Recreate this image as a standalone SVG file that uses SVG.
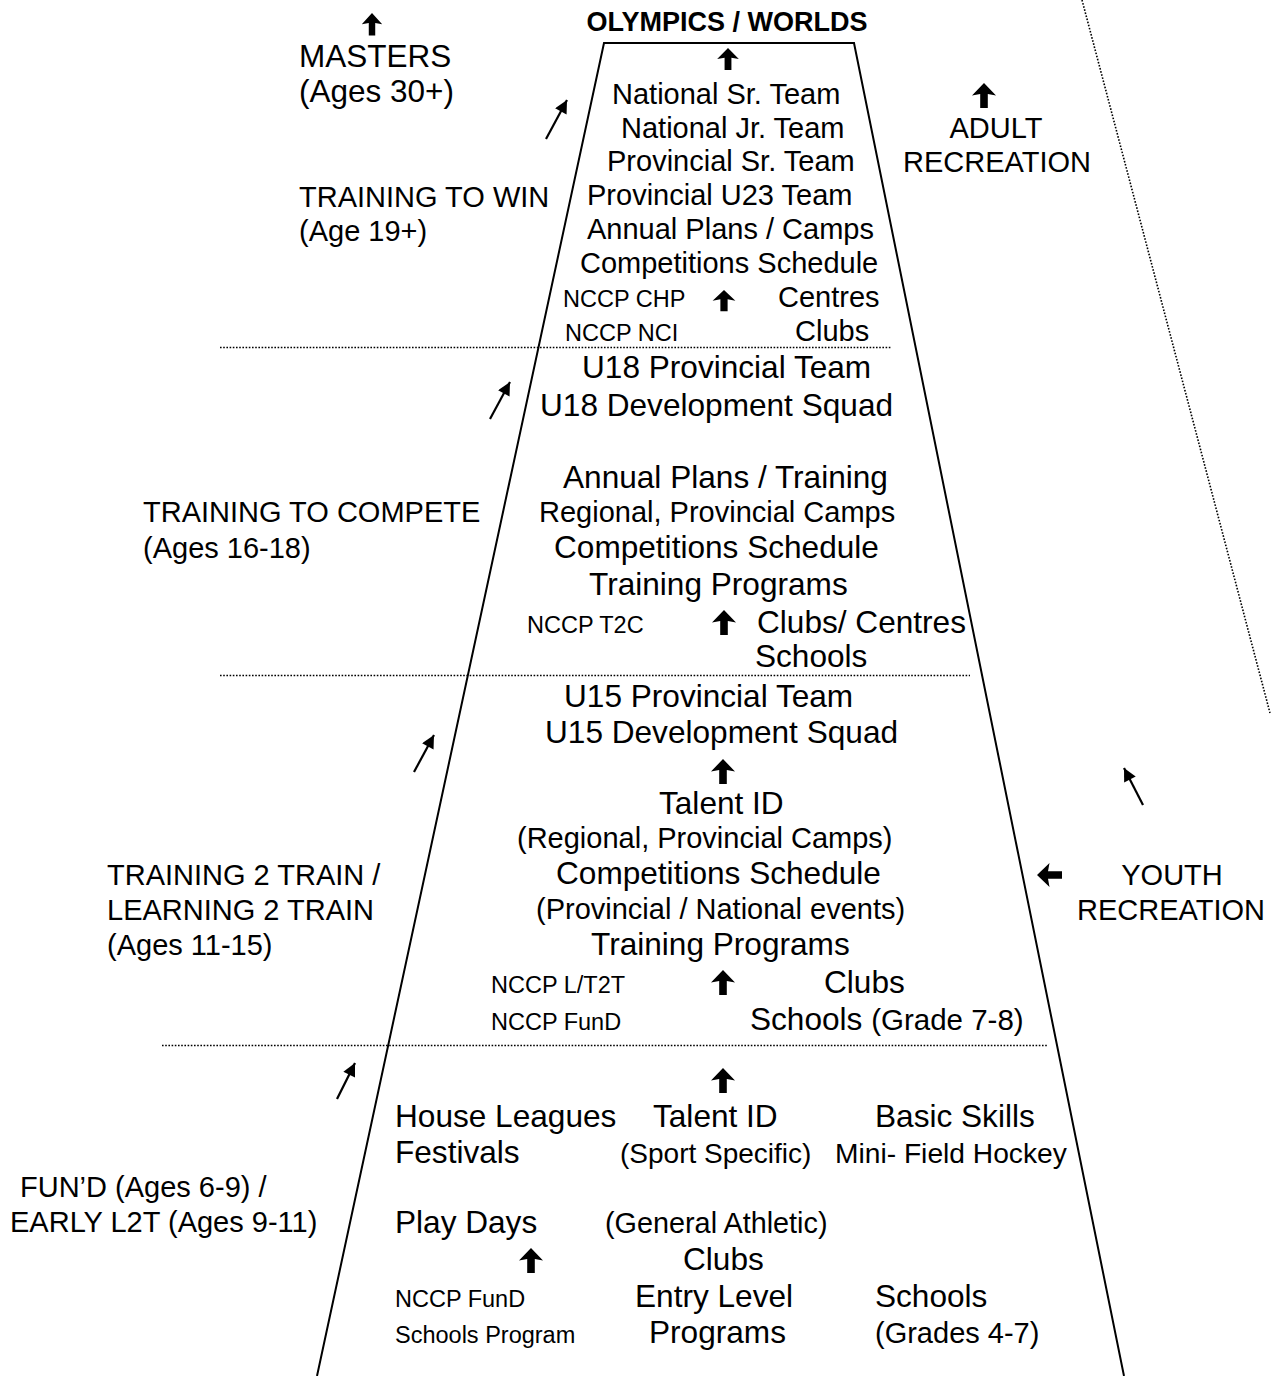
<svg xmlns="http://www.w3.org/2000/svg" width="1271" height="1376" viewBox="0 0 1271 1376">
<style>
text{font-family:"Liberation Sans",Arial,sans-serif;fill:#000}
.t29{font-size:29px}
.t31{font-size:31.6px}
.sm{font-size:23.5px}
.b{font-weight:bold;font-size:27px}
.mid{text-anchor:middle}
.frame{fill:none;stroke:#000;stroke-width:2}
.dot{fill:none;stroke:#000;stroke-width:1.6;stroke-dasharray:1.6 1.6}
.diag{stroke:#000;stroke-width:2.2;marker-end:url(#ah)}
</style>
<defs>
<marker id="ah" viewBox="0 0 10 10" refX="10" refY="5" markerWidth="15" markerHeight="13" markerUnits="userSpaceOnUse" orient="auto"><path d="M0,0 L10,5 L0,10 Z" fill="#000"/></marker>
<path id="ua" d="M0,0 L12,12.5 L3.8,11 L3.8,25 L-3.8,25 L-3.8,11 L-12,12.5 Z" fill="#000"/>
</defs>
<rect width="1271" height="1376" fill="#fff"/>

<g id="frame">
<polyline class="frame" points="317,1376 604,43 854,43 1124,1376"/>
<line class="dot" x1="1082" y1="0" x2="1270" y2="713"/>
<line class="dot" x1="220" y1="347.5" x2="892" y2="347.5"/>
<line class="dot" x1="220" y1="675.5" x2="970" y2="675.5"/>
<line class="dot" x1="162" y1="1045.5" x2="1048" y2="1045.5"/>
</g>

<g id="connectors">
<use href="#ua" transform="translate(372,13) scale(0.85,0.9)"/>
<use href="#ua" transform="translate(728,48) scale(0.9,0.88)"/>
<use href="#ua" transform="translate(724,290) scale(0.95,0.85)"/>
<use href="#ua" transform="translate(984,83)"/>
<use href="#ua" transform="translate(724,610)"/>
<use href="#ua" transform="translate(723,759)"/>
<use href="#ua" transform="translate(723,970)"/>
<use href="#ua" transform="translate(723,1068)"/>
<use href="#ua" transform="translate(531,1248)"/>
<use href="#ua" transform="translate(1037,875) rotate(-90)"/>
<line class="diag" x1="546" y1="139" x2="567" y2="100"/>
<line class="diag" x1="490" y1="419" x2="510" y2="382"/>
<line class="diag" x1="414" y1="772" x2="434" y2="735"/>
<line class="diag" x1="337" y1="1099" x2="355" y2="1063"/>
<line class="diag" x1="1143" y1="805" x2="1124" y2="768"/>
</g>

<g id="olympics"><text class="b mid" x="727" y="31">OLYMPICS / WORLDS</text></g>

<g id="masters">
<text x="299" y="67" style="font-size:31.5px">MASTERS</text>
<text x="299" y="102" style="font-size:31.5px">(Ages 30+)</text>
</g>

<g id="t2w-label" class="t29">
<text x="299" y="207">TRAINING TO WIN</text>
<text x="299" y="241">(Age 19+)</text>
</g>

<g id="adult-rec" class="t29">
<text class="mid" x="996" y="138">ADULT</text>
<text class="mid" x="997" y="172">RECREATION</text>
</g>

<g id="t2w-content">
<text class="t29" x="612" y="103.5">National Sr. Team</text>
<text class="t29" x="621" y="137.5">National Jr. Team</text>
<text class="t29" x="607" y="171">Provincial Sr. Team</text>
<text class="t29" x="587" y="205">Provincial U23 Team</text>
<text class="t29" x="587" y="239">Annual Plans / Camps</text>
<text class="t29" x="580" y="273">Competitions Schedule</text>
<text class="sm" x="563" y="307">NCCP CHP</text>
<text class="t29" x="778" y="307">Centres</text>
<text class="sm" x="565" y="341">NCCP NCI</text>
<text class="t29" x="795" y="341">Clubs</text>
</g>

<g id="t2c-label" class="t29">
<text x="143" y="522">TRAINING TO COMPETE</text>
<text x="143" y="558">(Ages 16-18)</text>
</g>

<g id="t2c-content">
<text class="t31" x="582" y="378">U18 Provincial Team</text>
<text class="t31" x="540" y="416">U18 Development Squad</text>
<text class="t31" x="563" y="488">Annual Plans / Training</text>
<text class="t29" x="539" y="522">Regional, Provincial Camps</text>
<text class="t31" x="554" y="558">Competitions Schedule</text>
<text class="t31" x="589" y="595">Training Programs</text>
<text class="sm" x="527" y="633">NCCP T2C</text>
<text class="t31" x="757" y="633">Clubs/ Centres</text>
<text class="t31" x="755" y="667">Schools</text>
</g>

<g id="t2t-label" class="t29">
<text x="107" y="885">TRAINING 2 TRAIN /</text>
<text x="107" y="920">LEARNING 2 TRAIN</text>
<text x="107" y="955">(Ages 11-15)</text>
</g>

<g id="youth-rec" class="t29">
<text class="mid" x="1172" y="885">YOUTH</text>
<text class="mid" x="1171" y="920">RECREATION</text>
</g>

<g id="t2t-content">
<text class="t31" x="564" y="707">U15 Provincial Team</text>
<text class="t31" x="545" y="743">U15 Development Squad</text>
<text class="t31" x="659" y="814">Talent ID</text>
<text class="t29" x="517" y="848">(Regional, Provincial Camps)</text>
<text class="t31" x="556" y="884">Competitions Schedule</text>
<text class="t29" x="536" y="919">(Provincial / National events)</text>
<text class="t31" x="591" y="955">Training Programs</text>
<text class="sm" x="491" y="993">NCCP L/T2T</text>
<text class="t31" x="824" y="993">Clubs</text>
<text class="sm" x="491" y="1030">NCCP FunD</text>
<text class="t31" x="750" y="1030">Schools <tspan style="font-size:29.5px">(Grade 7-8)</tspan></text>
</g>

<g id="fund-label" class="t29">
<text x="20" y="1197">FUN’D (Ages 6-9) /</text>
<text x="10" y="1232">EARLY L2T (Ages 9-11)</text>
</g>

<g id="fund-content">
<text class="t31" x="395" y="1127">House Leagues</text>
<text class="t31" x="653" y="1127">Talent ID</text>
<text class="t31" x="875" y="1127">Basic Skills</text>
<text class="t31" x="395" y="1163">Festivals</text>
<text x="620" y="1163" style="font-size:28px">(Sport Specific)</text>
<text x="835" y="1163" style="font-size:28.2px">Mini- Field Hockey</text>
<text class="t31" x="395" y="1233">Play Days</text>
<text x="605" y="1233" style="font-size:28.8px">(General Athletic)</text>
<text class="t31" x="683" y="1270">Clubs</text>
<text class="sm" x="395" y="1307">NCCP FunD</text>
<text class="t31" x="635" y="1307">Entry Level</text>
<text class="t31" x="875" y="1307">Schools</text>
<text class="sm" x="395" y="1343">Schools Program</text>
<text class="t31" x="649" y="1343">Programs</text>
<text class="t29" x="875" y="1343">(Grades 4-7)</text>
</g>
</svg>
